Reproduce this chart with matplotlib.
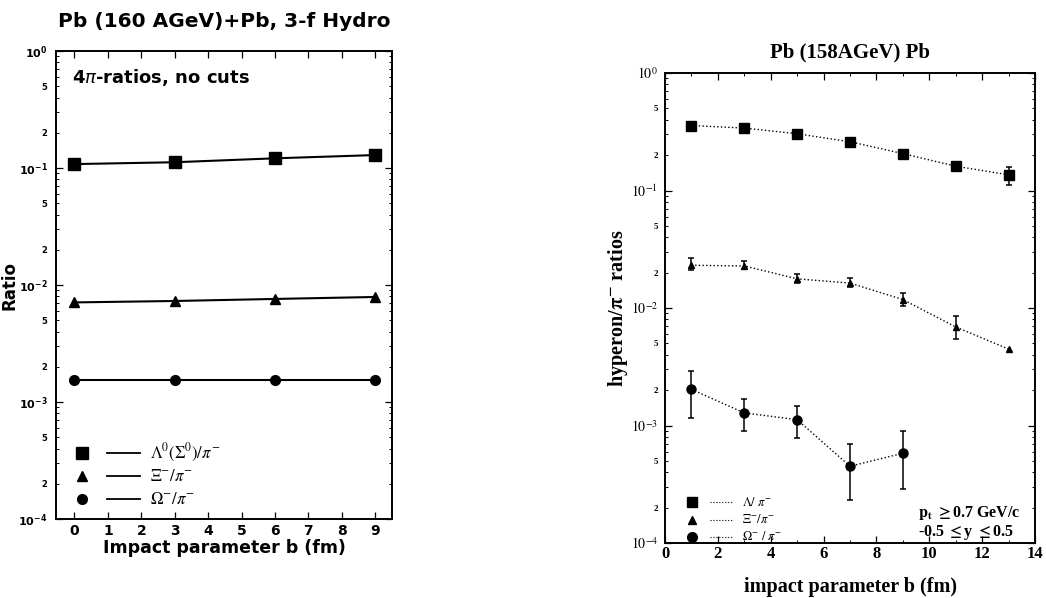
import numpy as np
import matplotlib
matplotlib.use("Agg")
import matplotlib.pyplot as plt
from matplotlib.ticker import FixedLocator, LogLocator, FuncFormatter

# ---------------- data ----------------
# Left: 3-fluid hydro, 4pi ratios
b_hydro = [0, 3, 6, 9]
lam_hydro = [0.108, 0.112, 0.121, 0.129]
xi_hydro = [0.0071, 0.0073, 0.0076, 0.0079]
om_hydro = [0.00155, 0.00155, 0.00155, 0.00155]
left_labels = [r"$\Lambda^0(\Sigma^0)/\pi^{-}$", r"$\Xi^{-}/\pi^{-}$", r"$\Omega^{-}/\pi^{-}$"]

# Right: Pb(158AGeV)Pb, pt>=0.7, |y|<=0.5
b_exp = [1, 3, 5, 7, 9, 11, 13]
lam_exp = [0.357, 0.340, 0.304, 0.260, 0.206, 0.161, 0.136]
lam_lo = [np.nan, np.nan, np.nan, np.nan, np.nan, np.nan, 0.111]
lam_hi = [np.nan, np.nan, np.nan, np.nan, np.nan, np.nan, 0.160]
xi_exp = [0.0231, 0.0228, 0.0177, 0.0163, 0.0118, 0.0069, 0.00447]
xi_lo = [0.0210, 0.0215, 0.0163, 0.0150, 0.0105, 0.0055, np.nan]
xi_hi = [0.0266, 0.0253, 0.0195, 0.0180, 0.0135, 0.0086, np.nan]
b_om = [1, 3, 5, 7, 9]
om_exp = [0.00203, 0.00128, 0.00112, 0.00045, 0.00058]
om_lo = [0.00116, 0.00090, 0.00079, 0.00023, 0.00029]
om_hi = [0.00293, 0.00168, 0.00146, 0.00069, 0.00090]
right_labels = [r"$\mathit{\Lambda}/\ \pi^{-}$", r"$\Xi^{-}/\pi^{-}$", r"$\Omega^{-}\ /\ \pi^{-}$"]

# ---------------- figure ----------------
fig = plt.figure(figsize=(10.46, 5.98), dpi=100)

def minor_fmt(v, pos):
    e = np.floor(np.log10(v) + 1e-9)
    m = int(round(v / 10 ** e))
    return str(m) if m in (2, 5) else ""

def setup_log_axis(ax, family, major_fmt, major_size, minor_size, mathfam):
    ax.set_yscale("log")
    ax.set_ylim(1e-4, 1.0)
    ax.yaxis.set_major_locator(FixedLocator([1e-4, 1e-3, 1e-2, 1e-1, 1.0]))
    ax.yaxis.set_minor_locator(LogLocator(base=10, subs=np.arange(2, 10)))
    ax.yaxis.set_major_formatter(FuncFormatter(major_fmt))
    ax.yaxis.set_minor_formatter(FuncFormatter(minor_fmt))
    for lab in ax.get_yticklabels(which="major"):
        lab.set_fontsize(major_size)
        lab.set_family(family)
        lab.set_math_fontfamily(mathfam)
    for lab in ax.get_yticklabels(which="minor"):
        lab.set_fontsize(minor_size)
        lab.set_family(family)
        lab.set_fontweight("bold")
    ax.tick_params(which="both", direction="in", top=True, right=True)
    ax.tick_params(which="major", length=5, width=0.9)
    ax.tick_params(which="minor", length=2.5, width=0.7)
    for s in ax.spines.values():
        s.set_linewidth(1.4)

# ---------------- left panel ----------------
axL = fig.add_axes([56 / 1046, 1 - 519 / 598, 336 / 1046, 468 / 598])
sans = "DejaVu Sans"
axL.plot(b_hydro, lam_hydro, "-", color="black", lw=1.5, marker="s", ms=8.5, zorder=3)
axL.plot(b_hydro, xi_hydro, "-", color="black", lw=1.5, marker="^", ms=6.5, zorder=3)
axL.plot(b_hydro, om_hydro, "-", color="black", lw=1.5, marker="o", ms=7, zorder=3)
axL.set_xlim(-0.55, 9.5)
axL.xaxis.set_major_locator(FixedLocator(list(range(0, 10))))
axL.set_xticklabels([str(i) for i in range(0, 10)], fontsize=10, fontweight="bold", family=sans)
setup_log_axis(axL, sans, lambda v, p: r"$\mathbf{10^{%d}}$" % int(round(np.log10(v))),
               8, 6, "dejavusans")
axL.tick_params(axis="y", which="both", pad=6)
axL.set_xlabel("Impact parameter b (fm)", fontsize=12.5, fontweight="bold", family=sans, labelpad=1)
axL.set_ylabel("Ratio", fontsize=12, fontweight="bold", family=sans)
axL.yaxis.set_label_coords(-0.113, 0.5)
axL.set_title("Pb (160 AGeV)+Pb, 3-f Hydro", fontsize=14.5, fontweight="bold", family=sans, pad=17)
axL.text(0.048, 0.943, r"4$\pi$-ratios, no cuts", transform=axL.transAxes, fontsize=13,
         fontweight="bold", family=sans, va="center", ha="left")
# legend
leg_markers = ["s", "^", "o"]
leg_ms = [8.5, 6.5, 7]
leg_y = [0.141, 0.092, 0.043]
for mk, ms, yy, lab in zip(leg_markers, leg_ms, leg_y, left_labels):
    axL.plot([0.077], [yy], marker=mk, ms=ms, color="black", transform=axL.transAxes, clip_on=False)
    axL.plot([0.152, 0.25], [yy, yy], "-", color="black", lw=1.3, transform=axL.transAxes)
    axL.text(0.28, yy, lab, transform=axL.transAxes, fontsize=12, va="center", ha="left",
             math_fontfamily="stix")

# ---------------- right panel ----------------
axR = fig.add_axes([665 / 1046, 1 - 543 / 598, 370 / 1046, 470 / 598])
serif = "Liberation Serif"

def draw_series(ax, x, y, lo, hi, marker, ms):
    y = np.asarray(y, float)
    lo = np.asarray(lo, float)
    hi = np.asarray(hi, float)
    ax.plot(x, y, ":", color="black", lw=1.0, zorder=2)
    ax.plot(x, y, linestyle="none", marker=marker, ms=ms, color="black", zorder=3)
    ax.errorbar(x, y, yerr=[y - lo, hi - y], fmt="none", ecolor="black", elinewidth=1.1,
                capsize=2.5, capthick=1.1, zorder=3)

draw_series(axR, b_exp, lam_exp, lam_lo, lam_hi, "s", 6.5)
draw_series(axR, b_exp, xi_exp, xi_lo, xi_hi, "^", 5)
draw_series(axR, b_om, om_exp, om_lo, om_hi, "o", 6.5)
axR.set_xlim(0, 14)
axR.xaxis.set_major_locator(FixedLocator(list(range(0, 15, 2))))
axR.xaxis.set_minor_locator(FixedLocator(list(range(1, 15, 2))))
axR.set_xticklabels([str(i) for i in range(0, 15, 2)], fontsize=12, fontweight="bold", family=serif)
setup_log_axis(axR, serif, lambda v, p: r"$10^{%d}$" % int(round(np.log10(v))),
               10, 6.5, "stix")
axR.tick_params(axis="y", which="both", pad=5)
axR.tick_params(axis="x", which="both", pad=2)
axR.set_xlabel("impact parameter b (fm)", fontsize=14.5, fontweight="bold", family=serif)
axR.xaxis.set_label_coords(0.5, -0.072)
axR.set_ylabel(r"hyperon/$\mathbf{\pi^{-}}$ ratios", fontsize=14.5, fontweight="bold", family=serif,
               math_fontfamily="stix")
axR.yaxis.set_label_coords(-0.095, 0.5)
axR.set_title("Pb (158AGeV) Pb", fontsize=15, fontweight="bold", family=serif, pad=11)
leg_y_r = [0.087, 0.049, 0.013]
leg_ms_r = [7, 6, 7]
for mk, ms, yy, lab in zip(leg_markers, leg_ms_r, leg_y_r, right_labels):
    axR.plot([0.073], [yy], marker=mk, ms=ms, color="black", transform=axR.transAxes, clip_on=False)
    axR.plot([0.122, 0.181], [yy, yy], ":", color="black", lw=0.8, transform=axR.transAxes)
    axR.text(0.208, yy, lab, transform=axR.transAxes, fontsize=9, va="center", ha="left",
             family=serif, math_fontfamily="stix")
axR.text(0.684, 0.064, r"$\mathbf{p_t}$ $\mathbf{\geq}$0.7 GeV/c", transform=axR.transAxes,
         fontsize=11.5, fontweight="bold", family=serif, va="center", ha="left", math_fontfamily="stix")
axR.text(0.684, 0.023, r"-0.5 $\mathbf{\leq}$y $\mathbf{\leq}$0.5", transform=axR.transAxes,
         fontsize=11.5, fontweight="bold", family=serif, va="center", ha="left", math_fontfamily="stix")

fig.savefig("out.png", dpi=100)
